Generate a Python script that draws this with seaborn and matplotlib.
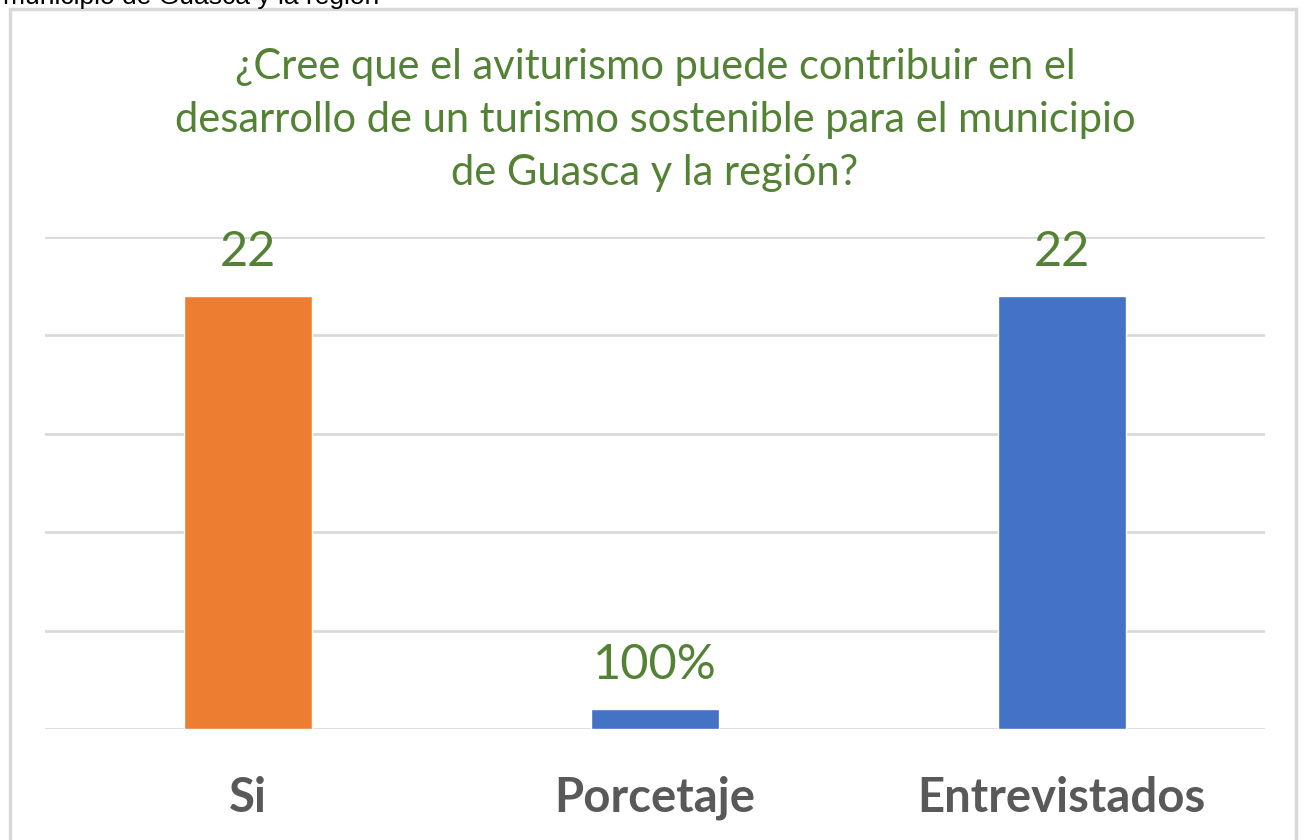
import numpy as np
import pandas as pd
import matplotlib
matplotlib.use("Agg")
import matplotlib.pyplot as plt
import seaborn as sns
from matplotlib.patches import Rectangle

# data
categorias = ["Si", "Porcetaje", "Entrevistados"]
valores = [22, 1, 22]
etiquetas = ["22", "100%", "22"]
colores = ["#ED7D31", "#4472C4", "#4472C4"]

titulo = ("¿Cree que el aviturismo puede contribuir en el\n"
          "desarrollo de un turismo sostenible para el municipio\n"
          "de Guasca y la región?")

df = pd.DataFrame({"categoria": categorias, "valor": valores})

sns.set_style("white")
plt.rcParams["font.family"] = ["Lato", "DejaVu Sans"]

fig = plt.figure(figsize=(13.06, 8.4), dpi=100)

# chart frame (light grey border as in the source document)
fig.patches.append(Rectangle((10 / 1306, -0.05), 1286 / 1306, 1.0 - 9 / 840 + 0.05,
                             transform=fig.transFigure, fill=False,
                             edgecolor="#d9d9d9", linewidth=2.5))

# cut-off caption line from the document above the chart
fig.text(3 / 1306, 1.0 + 3 / 840, "municipio de Guasca y la región",
         ha="left", va="center", fontsize=19, color="black",
         family=["Liberation Sans", "DejaVu Sans"])

ax = fig.add_axes([45 / 1306, 111 / 840, 1220 / 1306, 492 / 840])
sns.barplot(data=df, x="categoria", y="valor", hue="categoria",
            palette=colores, width=0.315, legend=False, ax=ax, saturation=1)

ax.set_ylim(0, 25)
ax.set_xlim(-0.5, 2.5)
ax.set_yticks([0, 5, 10, 15, 20, 25])
ax.yaxis.grid(True, color="#d9d9d9", linewidth=2)
ax.set_axisbelow(True)
ax.tick_params(axis="y", left=False, labelleft=False)
ax.tick_params(axis="x", bottom=False, pad=30)
for s in ax.spines.values():
    s.set_visible(False)
ax.set_xlabel("")
ax.set_ylabel("")

for lab in ax.get_xticklabels():
    lab.set_fontsize(34)
    lab.set_fontweight("bold")
    lab.set_color("#595959")

for cont, txt in zip(ax.containers, etiquetas):
    ax.bar_label(cont, labels=[txt], padding=16, fontsize=35, color="#548235")

fig.text(655 / 1306, 1 - 120 / 840, titulo, ha="center", va="center",
         fontsize=30, color="#548235", linespacing=1.5)

fig.savefig("out.png", dpi=100)
